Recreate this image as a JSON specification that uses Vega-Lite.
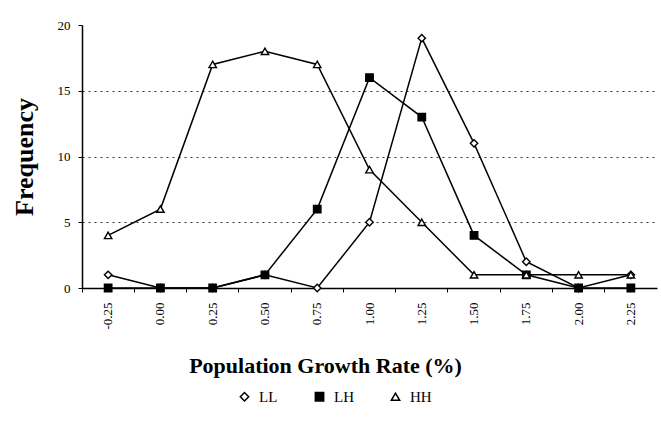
{
  "$schema": "https://vega.github.io/schema/vega-lite/v6.json",
  "width": 575,
  "height": 263,
  "autosize": "none",
  "padding": {"left": 82, "top": 25, "right": 4, "bottom": 136},
  "background": "white",
  "config": {"view": {"stroke": null}, "font": "Liberation Serif"},
  "data": {"values": [
    {"rate": "-0.25", "series": "LL", "freq": 1},
    {"rate": "0.00", "series": "LL", "freq": 0},
    {"rate": "0.25", "series": "LL", "freq": 0},
    {"rate": "0.50", "series": "LL", "freq": 1},
    {"rate": "0.75", "series": "LL", "freq": 0},
    {"rate": "1.00", "series": "LL", "freq": 5},
    {"rate": "1.25", "series": "LL", "freq": 19},
    {"rate": "1.50", "series": "LL", "freq": 11},
    {"rate": "1.75", "series": "LL", "freq": 2},
    {"rate": "2.00", "series": "LL", "freq": 0},
    {"rate": "2.25", "series": "LL", "freq": 1},
    {"rate": "-0.25", "series": "LH", "freq": 0},
    {"rate": "0.00", "series": "LH", "freq": 0},
    {"rate": "0.25", "series": "LH", "freq": 0},
    {"rate": "0.50", "series": "LH", "freq": 1},
    {"rate": "0.75", "series": "LH", "freq": 6},
    {"rate": "1.00", "series": "LH", "freq": 16},
    {"rate": "1.25", "series": "LH", "freq": 13},
    {"rate": "1.50", "series": "LH", "freq": 4},
    {"rate": "1.75", "series": "LH", "freq": 1},
    {"rate": "2.00", "series": "LH", "freq": 0},
    {"rate": "2.25", "series": "LH", "freq": 0},
    {"rate": "-0.25", "series": "HH", "freq": 4},
    {"rate": "0.00", "series": "HH", "freq": 6},
    {"rate": "0.25", "series": "HH", "freq": 17},
    {"rate": "0.50", "series": "HH", "freq": 18},
    {"rate": "0.75", "series": "HH", "freq": 17},
    {"rate": "1.00", "series": "HH", "freq": 9},
    {"rate": "1.25", "series": "HH", "freq": 5},
    {"rate": "1.50", "series": "HH", "freq": 1},
    {"rate": "1.75", "series": "HH", "freq": 1},
    {"rate": "2.00", "series": "HH", "freq": 1},
    {"rate": "2.25", "series": "HH", "freq": 1}
  ]},
  "encoding": {
    "x": {
      "field": "rate", "type": "ordinal",
      "sort": ["-0.25","0.00","0.25","0.50","0.75","1.00","1.25","1.50","1.75","2.00","2.25"],
      "scale": {"type": "band", "paddingInner": 0, "paddingOuter": 0},
      "axis": {
        "title": "Population Growth Rate (%)",
        "titleFont": "Liberation Serif", "titleFontSize": 22, "titleFontWeight": "bold", "titleColor": "black",
        "titleX": 243, "titleY": 84, "titleBaseline": "alphabetic", "titleAnchor": "middle",
        "labelAngle": 270, "labelFontSize": 13, "labelColor": "black", "labelPadding": 10,
        "bandPosition": 0,
        "tickSize": 4, "tickColor": "black", "domainColor": "black", "domainWidth": 1.5,
        "grid": false
      }
    },
    "y": {
      "field": "freq", "type": "quantitative",
      "scale": {"domain": [0, 20], "nice": false},
      "axis": {
        "title": "Frequency",
        "titleFont": "Liberation Serif", "titleFontSize": 26, "titleFontWeight": "bold", "titleColor": "black",
        "titlePadding": 20,
        "values": [0, 5, 10, 15, 20],
        "labelFontSize": 13, "labelColor": "black", "labelPadding": 8,
        "tickSize": 4, "tickColor": "black", "domainColor": "black", "domainWidth": 1.5,
        "grid": true, "gridColor": "black", "gridDash": [2, 4], "gridWidth": 1,
        "gridOpacity": {"condition": {"test": "datum.value == 0 || datum.value == 20", "value": 0}, "value": 0.8}
      }
    }
  },
  "layer": [
    {
      "mark": {"type": "line", "color": "black", "strokeWidth": 1.5},
      "encoding": {"detail": {"field": "series"}}
    },
    {
      "mark": {"type": "point", "strokeWidth": 1.4, "size": 55, "opacity": 1},
      "encoding": {
        "shape": {
          "field": "series", "type": "nominal",
          "scale": {"domain": ["LL", "LH", "HH"], "range": ["diamond", "square", "triangle-up"]},
          "legend": {
            "title": null, "orient": "none", "direction": "horizontal",
            "legendX": 155, "legendY": 364,
            "labelFont": "Liberation Serif", "labelFontSize": 15, "labelColor": "black",
            "symbolSize": 70, "symbolStrokeWidth": 1.5, "labelOffset": 7, "columnPadding": 34
          }
        },
        "fill": {
          "field": "series", "type": "nominal",
          "scale": {"domain": ["LL", "LH", "HH"], "range": ["white", "black", "white"]},
          "legend": {
            "title": null, "orient": "none", "direction": "horizontal",
            "legendX": 155, "legendY": 364,
            "labelFont": "Liberation Serif", "labelFontSize": 15, "labelColor": "black",
            "symbolSize": 70, "symbolStrokeWidth": 1.5, "labelOffset": 7, "columnPadding": 34
          }
        },
        "stroke": {
          "field": "series", "type": "nominal",
          "scale": {"domain": ["LL", "LH", "HH"], "range": ["black", "black", "black"]},
          "legend": {
            "title": null, "orient": "none", "direction": "horizontal",
            "legendX": 155, "legendY": 364,
            "labelFont": "Liberation Serif", "labelFontSize": 15, "labelColor": "black",
            "symbolSize": 70, "symbolStrokeWidth": 1.5, "labelOffset": 7, "columnPadding": 34
          }
        }
      }
    }
  ]
}
